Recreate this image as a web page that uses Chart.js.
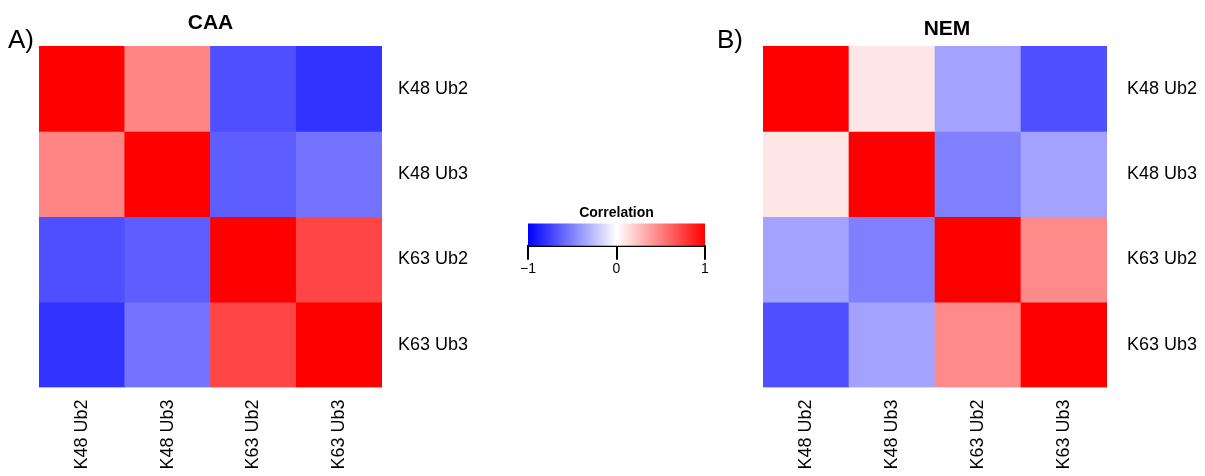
<!DOCTYPE html>
<html>
<head>
<meta charset="utf-8">
<script src="https://cdn.jsdelivr.net/npm/chart.js@4.4.0/dist/chart.umd.min.js"></script>
<style>
    body { margin: 0; background: #fff; }
    #wrap { position: relative; width: 1205px; height: 476px; overflow: hidden; }
    canvas { position: absolute; top: 0; }
</style>
</head>
<body>
<div id="wrap">
    <canvas id="caa" width="520" height="476" style="left:0px"></canvas>
    <canvas id="nem" width="505" height="476" style="left:700px"></canvas>
    <canvas id="legend" width="230" height="90" style="left:500px; top:195px"></canvas>
</div>
<script>
const rowLabels = ['K48 Ub2', 'K48 Ub3', 'K63 Ub2', 'K63 Ub3'];
const colLabels = ['K48 Ub2', 'K48 Ub3', 'K63 Ub2', 'K63 Ub3'];

// correlation matrices, rows top to bottom
const caaValues = [
    [1.00, 0.48, -0.69, -0.80],
    [0.48, 1.00, -0.63, -0.55],
    [-0.69, -0.63, 1.00, 0.73],
    [-0.80, -0.55, 0.73, 1.00]
];
const nemValues = [
    [1.00, 0.10, -0.36, -0.69],
    [0.10, 1.00, -0.50, -0.36],
    [-0.36, -0.50, 1.00, 0.46],
    [-0.69, -0.36, 0.46, 1.00]
];

const legendRange = [-1, 1];
const legendTicks = [-1, 0, 1];
const legendColors = ['#0000FF', '#FFFFFF', '#FF0000'];

const FONT = '"Liberation Sans", Arial, Helvetica, sans-serif';
Chart.defaults.font.family = FONT;
Chart.defaults.color = '#000';

function corrColor(v) {
    if (v >= 0) {
        const c = Math.round(255 * (1 - v));
        return `rgb(255, ${c}, ${c})`;
    }
    const c = Math.round(255 * (1 + v));
    return `rgb(${c}, ${c}, 255)`;
}

// draws panel letter and title above the heatmap
const panelText = {
    id: 'panelText',
    afterDraw(chart, args, o) {
        const { ctx, chartArea } = chart;
        ctx.save();
        ctx.fillStyle = '#000';
        ctx.textBaseline = 'alphabetic';
        ctx.font = `26px ${FONT}`;
        ctx.textAlign = 'left';
        ctx.fillText(o.letter, o.letterX, o.letterY);
        ctx.font = `bold 21px ${FONT}`;
        ctx.textAlign = 'center';
        ctx.fillText(o.title, (chartArea.left + chartArea.right) / 2 + o.titleDx, o.titleY);
        ctx.restore();
    }
};

function makeHeatmap(id, values, cfg) {
    const datasets = rowLabels.map((row, r) => ({
        label: row,
        data: colLabels.map(() => [r, r + 1]),
        backgroundColor: values[r].map(corrColor),
        borderWidth: 0,
        barPercentage: 1,
        categoryPercentage: 1,
        grouped: false
    }));

    return new Chart(document.getElementById(id).getContext('2d'), {
        type: 'bar',
        data: { labels: colLabels, datasets: datasets },
        options: {
            responsive: false,
            animation: false,
            layout: { padding: { left: cfg.padLeft, top: 46, right: cfg.padRight, bottom: 0 } },
            plugins: {
                legend: { display: false },
                tooltip: { enabled: false },
                panelText: cfg.text
            },
            scales: {
                x: {
                    type: 'category',
                    offset: true,
                    grid: { display: false, drawTicks: false },
                    border: { display: false },
                    ticks: { autoSkip: false, minRotation: 90, maxRotation: 90, padding: 12, font: { size: 18 } },
                    afterFit: s => { s.height = 88.5; }
                },
                y: { type: 'linear', min: 0, max: 4, reverse: true, display: false },
                rows: {
                    type: 'category',
                    labels: rowLabels,
                    position: 'right',
                    offset: true,
                    grid: { display: false, drawTicks: false },
                    border: { display: false },
                    ticks: { padding: cfg.labelPad, font: { size: 18 } },
                    afterFit: s => { s.width = cfg.axisWidth; }
                }
            }
        },
        plugins: [panelText]
    });
}

makeHeatmap('caa', caaValues, {
    padLeft: 39, padRight: 18, axisWidth: 120, labelPad: 16,
    text: { letter: 'A)', letterX: 8, letterY: 48, title: 'CAA', titleDx: 0, titleY: 28.5 }
});
makeHeatmap('nem', nemValues, {
    padLeft: 63, padRight: 0, axisWidth: 98, labelPad: 20,
    text: { letter: 'B)', letterX: 17, letterY: 48, title: 'NEM', titleDx: 12, titleY: 34.5 }
});

// colour key
new Chart(document.getElementById('legend').getContext('2d'), {
    type: 'bar',
    data: {
        labels: ['Correlation'],
        datasets: [{
            data: [legendRange],
            barPercentage: 1,
            categoryPercentage: 1,
            borderWidth: 0,
            backgroundColor: (c) => {
                const area = c.chart.chartArea;
                if (!area) return legendColors[2];
                const g = c.chart.ctx.createLinearGradient(area.left, 0, area.right, 0);
                legendColors.forEach((col, i) => g.addColorStop(i / (legendColors.length - 1), col));
                return g;
            }
        }]
    },
    options: {
        indexAxis: 'y',
        responsive: false,
        animation: false,
        layout: { padding: { left: 28, right: 25, top: 0, bottom: 0 } },
        plugins: {
            legend: { display: false },
            tooltip: { enabled: false },
            title: {
                display: true,
                text: 'Correlation',
                color: '#000',
                font: { size: 14, weight: 'bold' },
                padding: { top: 9.6, bottom: 2 }
            }
        },
        scales: {
            x: {
                type: 'linear',
                min: legendRange[0],
                max: legendRange[1],
                afterBuildTicks: s => { s.ticks = legendTicks.map(v => ({ value: v })); },
                ticks: {
                    padding: 1,
                    font: { size: 14 },
                    color: '#000',
                    callback: v => v < 0 ? '\u2212' + Math.abs(v) : String(v)
                },
                grid: { display: true, drawOnChartArea: false, tickLength: 14, color: '#000', lineWidth: 2 },
                border: { display: true, color: '#000', width: 2 },
                afterFit: s => { s.height = 39.3; }
            },
            y: { display: false }
        }
    }
});
</script>
</body>
</html>
